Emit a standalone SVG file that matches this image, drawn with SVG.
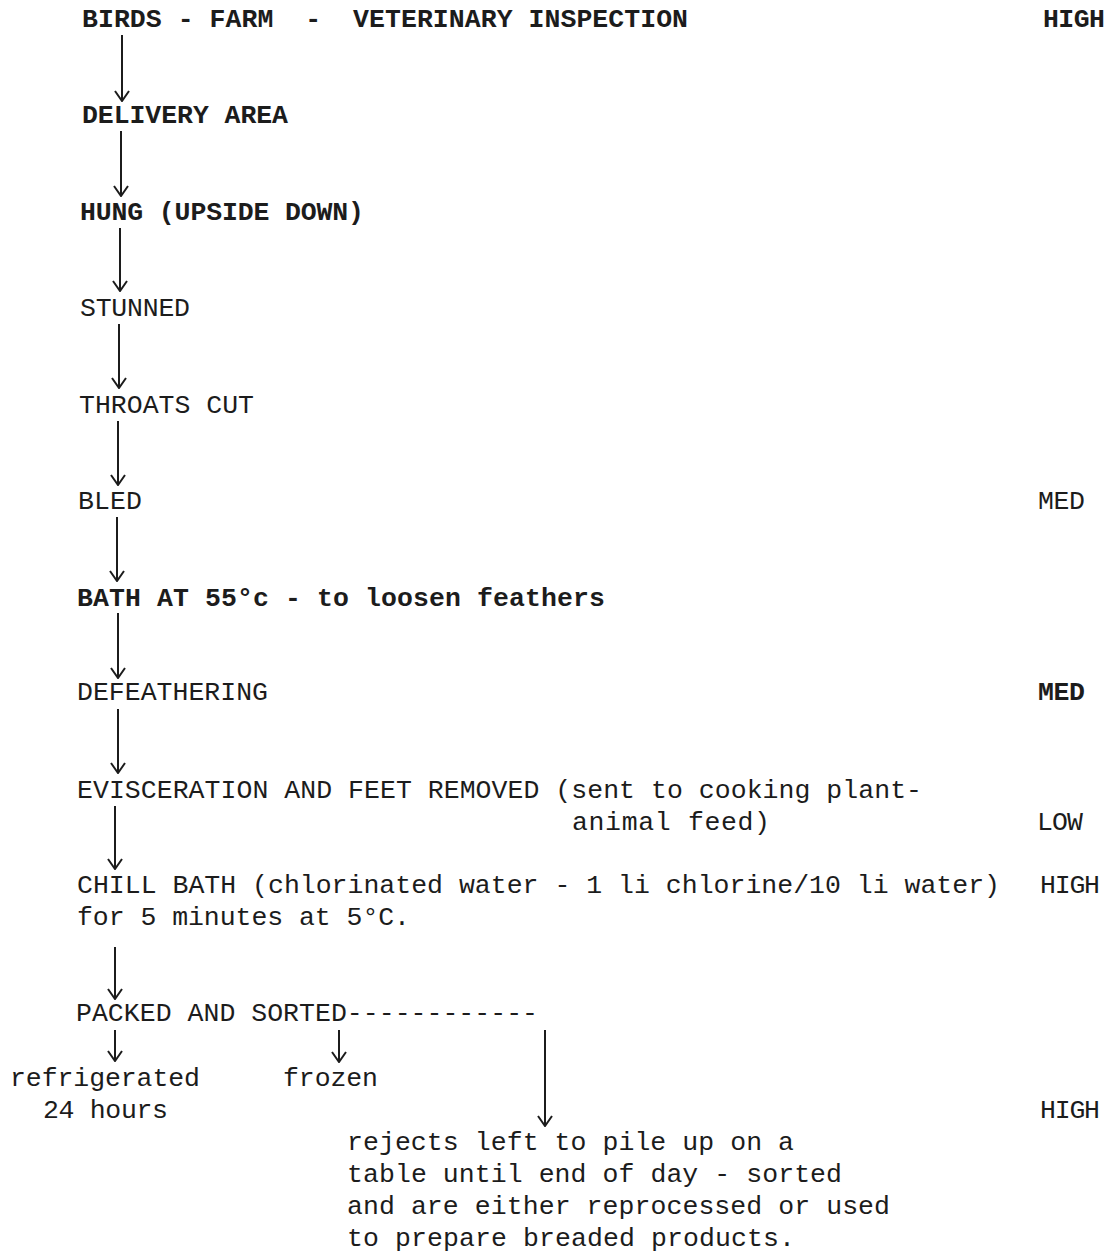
<svg xmlns="http://www.w3.org/2000/svg" width="1119" height="1253" viewBox="0 0 1119 1253">
<style>
text{font-family:"Courier New","Liberation Mono",monospace;font-size:26.5px;fill:#1c1c1c;white-space:pre}
.b{font-weight:bold}
.c{stroke:#1c1c1c;stroke-width:2;fill:none}
</style>
<defs>
<marker id="ah" viewBox="0 0 16 14" refX="8" refY="13" markerWidth="16" markerHeight="14" markerUnits="userSpaceOnUse" orient="0">
<polyline points="1,3 8,13 15,3" fill="none" stroke="#1c1c1c" stroke-width="2"/>
</marker>
</defs>
<rect width="1119" height="1253" fill="#fff"/>
<g id="connectors">
<line class="c" x1="122" y1="35" x2="122" y2="101" marker-end="url(#ah)"/>
<line class="c" x1="121" y1="131" x2="121" y2="196" marker-end="url(#ah)"/>
<line class="c" x1="120" y1="228" x2="120" y2="291" marker-end="url(#ah)"/>
<line class="c" x1="119" y1="324" x2="119" y2="388" marker-end="url(#ah)"/>
<line class="c" x1="118" y1="421" x2="118" y2="485" marker-end="url(#ah)"/>
<line class="c" x1="117" y1="517" x2="117" y2="581" marker-end="url(#ah)"/>
<line class="c" x1="118" y1="613" x2="118" y2="678" marker-end="url(#ah)"/>
<line class="c" x1="118" y1="709" x2="118" y2="773" marker-end="url(#ah)"/>
<line class="c" x1="115" y1="806" x2="115" y2="869" marker-end="url(#ah)"/>
<line class="c" x1="115" y1="947" x2="115" y2="999" marker-end="url(#ah)"/>
<line class="c" x1="115" y1="1030" x2="115" y2="1061" marker-end="url(#ah)"/>
<line class="c" x1="339" y1="1030" x2="339" y2="1062" marker-end="url(#ah)"/>
<line class="c" x1="545" y1="1030" x2="545" y2="1126" marker-end="url(#ah)"/>
</g>
<g id="n-birds"><text class="b" x="82" y="27" textLength="606">BIRDS - FARM  -  VETERINARY INSPECTION</text><text class="b" x="1043" y="27" textLength="62">HIGH</text></g>
<g id="n-delivery"><text class="b" x="82" y="123" textLength="206">DELIVERY AREA</text></g>
<g id="n-hung"><text class="b" x="80" y="220" textLength="284">HUNG (UPSIDE DOWN)</text></g>
<g id="n-stunned"><text x="80" y="316" textLength="110">STUNNED</text></g>
<g id="n-throats"><text x="79" y="413" textLength="175">THROATS CUT</text></g>
<g id="n-bled"><text x="78" y="509" textLength="64">BLED</text><text x="1038" y="509" textLength="47">MED</text></g>
<g id="n-bath"><text class="b" x="77" y="606" textLength="528">BATH AT 55°c - to loosen feathers</text></g>
<g id="n-defeathering"><text x="77" y="700" textLength="191">DEFEATHERING</text><text class="b" x="1038" y="700" textLength="47">MED</text></g>
<g id="n-evisceration"><text x="77" y="798" textLength="845">EVISCERATION AND FEET REMOVED (sent to cooking plant-</text><text x="572" y="830" textLength="198">animal feed)</text><text x="1037" y="830" textLength="46">LOW</text></g>
<g id="n-chill"><text x="77" y="893" textLength="923">CHILL BATH (chlorinated water - 1 li chlorine/10 li water)</text><text x="1040" y="893" textLength="60">HIGH</text><text x="77" y="925" textLength="333">for 5 minutes at 5°C.</text></g>
<g id="n-packed"><text x="76" y="1021" textLength="462">PACKED AND SORTED------------</text></g>
<g id="n-refrigerated"><text x="10" y="1086" textLength="190">refrigerated</text><text x="43" y="1118" textLength="125">24 hours</text></g>
<g id="n-frozen"><text x="283" y="1086" textLength="95">frozen</text></g>
<g id="n-high-bottom"><text x="1040" y="1118" textLength="60">HIGH</text></g>
<g id="n-rejects">
<text x="347" y="1150" textLength="447">rejects left to pile up on a</text>
<text x="347" y="1182" textLength="495">table until end of day - sorted</text>
<text x="347" y="1214" textLength="543">and are either reprocessed or used</text>
<text x="347" y="1246" textLength="448">to prepare breaded products.</text>
</g>
</svg>
